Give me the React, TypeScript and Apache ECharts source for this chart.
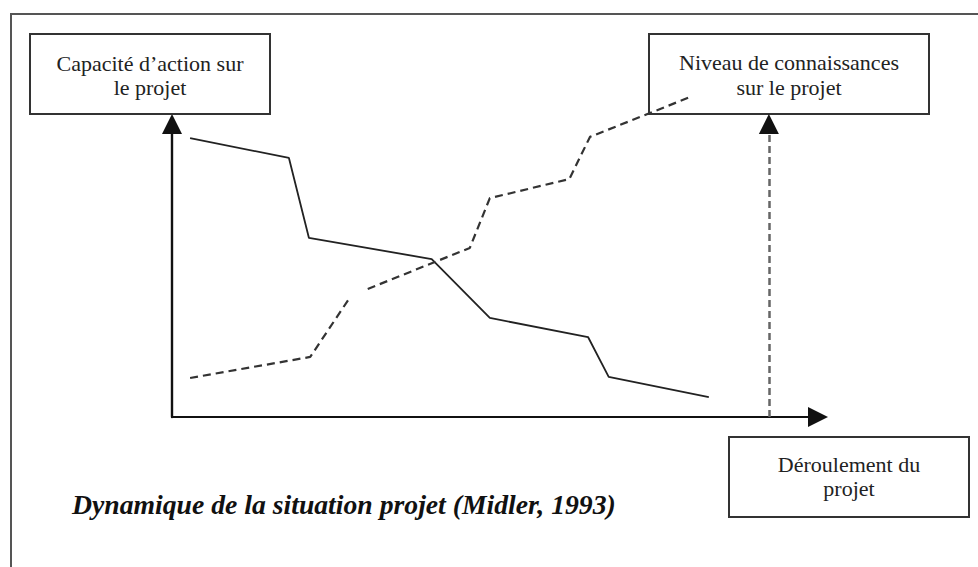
import React, { useEffect, useRef } from "react";
import * as echarts from "echarts";

// "Capacité d'action sur le projet" (solid line)
const solidX = [2.8, 18.1, 21.2, 40.2, 49.2, 64.4, 67.6, 83.1];
const solidY = [95.2, 88.4, 61.1, 53.9, 33.8, 27.3, 13.7, 6.8];

// "Niveau de connaissances sur le projet" (dashed line)
const dashedX = [2.8, 21.4, 27.6, 29.0, 30.3, 46.1, 49.2, 61.5, 64.7, 80.2];
const dashedY: (number | string)[] = [13.3, 20.5, 41.0, "-", 43.7, 57.7, 74.7, 81.2, 95.6, 109.2];

// vertical dashed marker on the time axis
const markerX = 92.4;
const axisMin = 0;
const axisMax = 100;

const boxLabels = {
  action: "Capacité d\u2019action sur\nle projet",
  knowledge: "Niveau de connaissances\nsur le projet",
  progress: "Déroulement du\nprojet",
};
const titleText = "Dynamique de la situation projet (Midler, 1993)";

export default function App() {
  const ref = useRef<HTMLDivElement>(null);
  useEffect(() => {
    const chart = echarts.init(ref.current!, null, { renderer: "svg" });
    const serif = "'Liberation Serif', 'Times New Roman', serif";
    const solidData = solidX.map((x, i) => [x, solidY[i]]);
    const dashedData = dashedX.map((x, i) => [x, dashedY[i]]);
    const boxStyle = { stroke: "#333", lineWidth: 2, fill: "none" };
    const textBase = {
      fontFamily: serif,
      fontSize: 22,
      fill: "#222",
      align: "center",
      verticalAlign: "middle",
      lineHeight: 24,
    };
    chart.setOption({
      animation: false,
      backgroundColor: "#fff",
      grid: { left: 172, top: 124, right: 160, bottom: 150 },
      xAxis: {
        type: "value",
        min: axisMin,
        max: axisMax,
        axisLine: {
          show: true,
          symbol: ["none", "triangle"],
          symbolSize: [20, 20],
          lineStyle: { color: "#111", width: 2 },
        },
        axisTick: { show: false },
        axisLabel: { show: false },
        splitLine: { show: false },
      },
      yAxis: {
        type: "value",
        min: axisMin,
        max: axisMax,
        axisLine: {
          show: true,
          symbol: ["none", "triangle"],
          symbolSize: [20, 20],
          lineStyle: { color: "#111", width: 2.4 },
        },
        axisTick: { show: false },
        axisLabel: { show: false },
        splitLine: { show: false },
      },
      series: [
        {
          type: "line",
          name: "Capacité d'action",
          data: solidData,
          symbol: "none",
          clip: false,
          lineStyle: { color: "#222", width: 1.8 },
          z: 3,
        },
        {
          type: "line",
          name: "Niveau de connaissances",
          data: dashedData,
          symbol: "none",
          clip: false,
          connectNulls: false,
          lineStyle: { color: "#333", width: 2.2, type: [8, 5] },
          z: 3,
          markLine: {
            silent: true,
            symbol: ["none", "none"],
            label: { show: false },
            lineStyle: { color: "#666", width: 2.5, type: [7, 4] },
            data: [[{ coord: [markerX, axisMin] }, { coord: [markerX, axisMax] }]],
          },
          markPoint: {
            silent: true,
            symbol: "triangle",
            symbolSize: [20, 20],
            itemStyle: { color: "#111" },
            label: { show: false },
            data: [{ coord: [markerX, axisMax] }],
          },
        },
      ],
      graphic: [
        { type: "rect", shape: { x: 11, y: 14, width: 1000, height: 600 }, style: { stroke: "#555", lineWidth: 2, fill: "none" }, z: 0 },
        { type: "rect", shape: { x: 30, y: 34, width: 240, height: 80 }, style: boxStyle, z: 1 },
        { type: "text", x: 150, y: 75, style: { ...textBase, text: boxLabels.action }, z: 2 },
        { type: "rect", shape: { x: 649, y: 34, width: 280, height: 80 }, style: boxStyle, z: 1 },
        { type: "text", x: 789, y: 74.5, style: { ...textBase, text: boxLabels.knowledge, lineHeight: 25 }, z: 2 },
        { type: "rect", shape: { x: 729, y: 437, width: 240, height: 80 }, style: boxStyle, z: 1 },
        { type: "text", x: 849, y: 476, style: { ...textBase, text: boxLabels.progress, lineHeight: 24 }, z: 2 },
        {
          type: "text",
          x: 72,
          y: 504,
          style: {
            text: titleText,
            fontFamily: serif,
            fontSize: 27.7,
            fontWeight: "bold",
            fontStyle: "italic",
            fill: "#111",
            align: "left",
            verticalAlign: "middle",
          },
          z: 2,
        },
      ],
    });
    return () => chart.dispose();
  }, []);
  return (
    <div
      ref={ref}
      style={{ position: "fixed", left: 0, top: 0, width: 978, height: 567, background: "#fff" }}
    />
  );
}
